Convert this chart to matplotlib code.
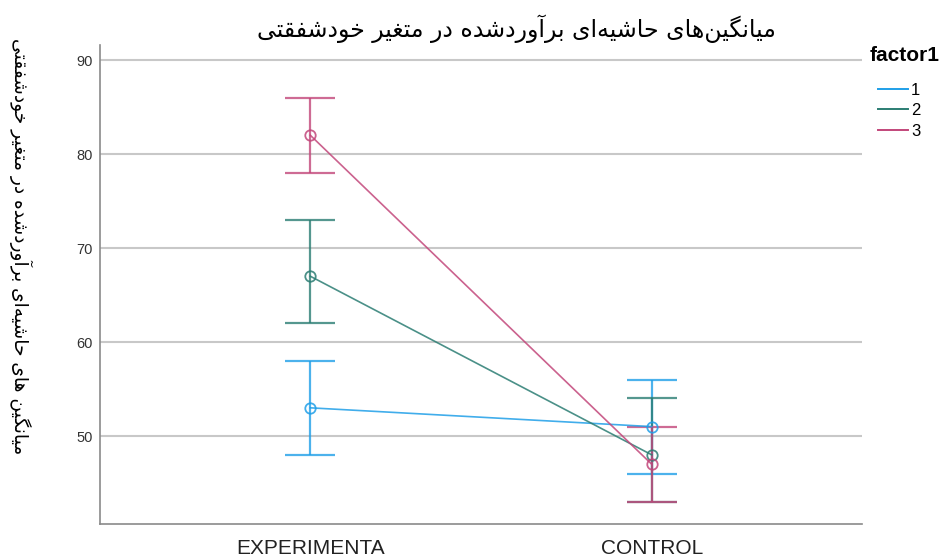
import numpy as np
import matplotlib
matplotlib.use("Agg")
import matplotlib.pyplot as plt
from matplotlib.lines import Line2D

# --- data ---
groups = ["EXPERIMENTA", "CONTROL"]
levels = ["1", "2", "3"]
means = [[53, 51], [67, 48], [82, 47]]
lower = [[48, 46], [62, 43], [78, 43]]
upper = [[58, 56], [73, 54], [86, 51]]
colors = ["#1f9fe8", "#2b7d73", "#c2467a"]

title_fa = "میانگین‌های حاشیه‌ای برآوردشده در متغیر خودشفقتی"
ylabel_fa = "میانگین های حاشیه‌ای برآوردشده در متغیر خودشفقتی"

# minimal Persian shaping (no arabic_reshaper available)
FORMS = {
    "ا": ("\uFE8D", "\uFE8E", None, None),
    "آ": ("\uFE81", "\uFE82", None, None),
    "د": ("\uFEA9", "\uFEAA", None, None),
    "ر": ("\uFEAD", "\uFEAE", None, None),
    "و": ("\uFEED", "\uFEEE", None, None),
    "ب": ("\uFE8F", "\uFE90", "\uFE91", "\uFE92"),
    "ت": ("\uFE95", "\uFE96", "\uFE97", "\uFE98"),
    "ح": ("\uFEA1", "\uFEA2", "\uFEA3", "\uFEA4"),
    "خ": ("\uFEA5", "\uFEA6", "\uFEA7", "\uFEA8"),
    "ش": ("\uFEB5", "\uFEB6", "\uFEB7", "\uFEB8"),
    "غ": ("\uFECD", "\uFECE", "\uFECF", "\uFED0"),
    "ف": ("\uFED1", "\uFED2", "\uFED3", "\uFED4"),
    "ق": ("\uFED5", "\uFED6", "\uFED7", "\uFED8"),
    "م": ("\uFEE1", "\uFEE2", "\uFEE3", "\uFEE4"),
    "ن": ("\uFEE5", "\uFEE6", "\uFEE7", "\uFEE8"),
    "ه": ("\uFEE9", "\uFEEA", "\uFEEB", "\uFEEC"),
    "گ": ("\uFB92", "\uFB93", "\uFB94", "\uFB95"),
    "ی": ("\uFBFC", "\uFBFD", "\uFBFE", "\uFBFF"),
}


def shape(s):
    out = []
    for i, c in enumerate(s):
        if c not in FORMS:
            if c != "\u200c":
                out.append(c)
            continue
        prev = s[i - 1] if i > 0 else ""
        nxt = s[i + 1] if i + 1 < len(s) else ""
        jp = prev in FORMS and FORMS[prev][2] is not None
        jn = FORMS[c][2] is not None and nxt in FORMS
        iso, fin, ini, med = FORMS[c]
        if jp and jn:
            out.append(med)
        elif jp:
            out.append(fin)
        elif jn:
            out.append(ini)
        else:
            out.append(iso)
    return "".join(out)[::-1]


plt.rcParams["font.family"] = ["Liberation Sans", "DejaVu Sans"]

fig = plt.figure(figsize=(9.42, 5.57), dpi=100)
ax = fig.add_axes([100 / 942, 33 / 557, 762 / 942, 479 / 557])

x = np.arange(len(groups))
for i, lev in enumerate(levels):
    m = np.array(means[i])
    lo = np.array(lower[i])
    hi = np.array(upper[i])
    ax.errorbar(x, m, yerr=[m - lo, hi - m], fmt="none", ecolor=colors[i],
                elinewidth=1.6, capsize=18, capthick=1.6, alpha=0.8, zorder=3)
    ax.plot(x, m, color=colors[i], lw=1.2, marker="o", markersize=7.5,
            markerfacecolor="none", markeredgewidth=1.3, alpha=0.85, zorder=4)

ax.set_xlim(-0.616, 1.616)
ax.set_ylim(40.64, 91.6)
ax.set_yticks([50, 60, 70, 80, 90])
ax.set_xticks(x)
ax.set_xticklabels(groups, fontsize=15, color="#222222")
ax.tick_params(axis="y", length=0, pad=5, labelsize=10.5, labelcolor="#333333")
ax.tick_params(axis="x", length=0, pad=11)
ax.yaxis.grid(True, color="#c8c8c8", lw=1.5)
ax.set_axisbelow(True)
for side in ["top", "right"]:
    ax.spines[side].set_visible(False)
for side in ["left", "bottom"]:
    ax.spines[side].set_color("#8a8a8a")
    ax.spines[side].set_linewidth(1.2)

fig.text(0.548, 0.949, shape(title_fa), ha="center", va="center",
         fontsize=17, family="DejaVu Sans")
fig.text(0.022, 0.558, shape(ylabel_fa), ha="center", va="center",
         rotation=270, fontsize=13.4, family="DejaVu Sans")

# legend
fig.text(0.998, 0.901, "factor1", ha="right", va="center",
         fontsize=15, fontweight="bold")
handles = [Line2D([0], [0], color=c, lw=1.4) for c in colors]
fig.legend(handles, levels, loc="upper left",
           bbox_to_anchor=(0.9246, 0.863), frameon=False, fontsize=12,
           handlelength=1.8, handletextpad=0.2, labelspacing=0.32,
           borderaxespad=0)

fig.savefig("out.png", dpi=100)
